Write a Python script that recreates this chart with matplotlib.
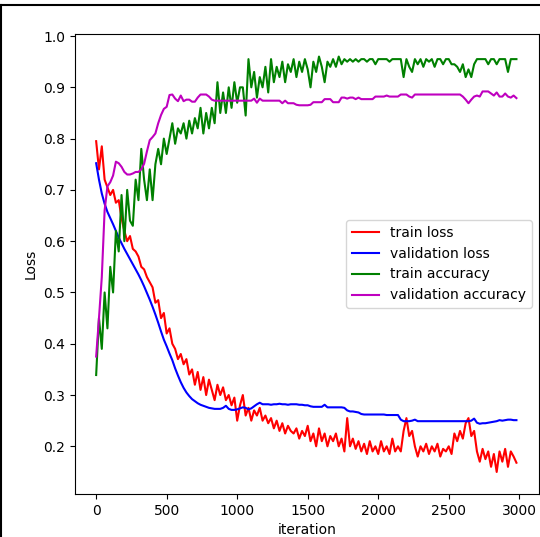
import numpy as np
import matplotlib
matplotlib.use("Agg")
import matplotlib.pyplot as plt
from matplotlib.lines import Line2D

# iterations, one sample every 20 steps
iteration = np.arange(0, 3000, 20)

train_loss = [
    0.795, 0.74, 0.785, 0.72, 0.705, 0.69, 0.70, 0.675, 0.68, 0.645,
    0.62, 0.60, 0.61, 0.585, 0.58, 0.57, 0.55, 0.545, 0.53, 0.52,
    0.51, 0.48, 0.485, 0.45, 0.46, 0.42, 0.43, 0.40, 0.39, 0.37,
    0.38, 0.36, 0.37, 0.34, 0.35, 0.32, 0.345, 0.31, 0.335, 0.30,
    0.33, 0.31, 0.29, 0.32, 0.30, 0.315, 0.29, 0.30, 0.28, 0.295,
    0.25, 0.28, 0.30, 0.26, 0.275, 0.25, 0.27, 0.26, 0.275, 0.25,
    0.26, 0.245, 0.255, 0.235, 0.25, 0.23, 0.245, 0.225, 0.24, 0.23,
    0.225, 0.235, 0.215, 0.23, 0.22, 0.24, 0.21, 0.225, 0.20, 0.235,
    0.21, 0.225, 0.20, 0.22, 0.21, 0.225, 0.20, 0.215, 0.19, 0.255,
    0.20, 0.215, 0.195, 0.21, 0.19, 0.205, 0.185, 0.21, 0.19, 0.20,
    0.185, 0.21, 0.19, 0.20, 0.185, 0.215, 0.19, 0.20, 0.19, 0.23,
    0.255, 0.22, 0.23, 0.20, 0.18, 0.20, 0.19, 0.205, 0.185, 0.20,
    0.19, 0.205, 0.18, 0.195, 0.19, 0.20, 0.185, 0.225, 0.21, 0.23,
    0.215, 0.245, 0.255, 0.22, 0.23, 0.19, 0.17, 0.195, 0.175, 0.19,
    0.16, 0.185, 0.15, 0.19, 0.17, 0.195, 0.16, 0.19, 0.18, 0.168,
]

val_loss = [
    0.752, 0.720, 0.693, 0.673, 0.657, 0.645, 0.633, 0.620, 0.607, 0.596,
    0.585, 0.575, 0.565, 0.555, 0.545, 0.535, 0.524, 0.512, 0.499, 0.486,
    0.472, 0.457, 0.441, 0.424, 0.408, 0.395, 0.381, 0.368, 0.352, 0.338,
    0.325, 0.314, 0.305, 0.298, 0.292, 0.288, 0.284, 0.281, 0.279, 0.277,
    0.275, 0.274, 0.273, 0.273, 0.273, 0.275, 0.279, 0.273, 0.271, 0.271,
    0.272, 0.274, 0.276, 0.275, 0.272, 0.274, 0.278, 0.282, 0.285, 0.282,
    0.282, 0.282, 0.281, 0.282, 0.282, 0.283, 0.282, 0.282, 0.281, 0.282,
    0.282, 0.282, 0.281, 0.281, 0.280, 0.280, 0.278, 0.277, 0.277, 0.277,
    0.277, 0.281, 0.276, 0.276, 0.276, 0.276, 0.276, 0.276, 0.275, 0.270,
    0.268, 0.268, 0.267, 0.266, 0.263, 0.262, 0.262, 0.262, 0.262, 0.262,
    0.262, 0.262, 0.262, 0.261, 0.261, 0.261, 0.261, 0.261, 0.252, 0.249,
    0.249, 0.249, 0.250, 0.252, 0.249, 0.249, 0.249, 0.249, 0.249, 0.249,
    0.249, 0.249, 0.249, 0.249, 0.249, 0.249, 0.249, 0.249, 0.249, 0.249,
    0.249, 0.249, 0.249, 0.250, 0.254, 0.246, 0.244, 0.245, 0.245, 0.246,
    0.247, 0.248, 0.249, 0.251, 0.250, 0.251, 0.252, 0.252, 0.251, 0.251,
]

train_acc = [
    0.339, 0.45, 0.39, 0.50, 0.43, 0.55, 0.50, 0.62, 0.58, 0.69,
    0.60, 0.70, 0.64, 0.63, 0.72, 0.68, 0.78, 0.72, 0.68, 0.74,
    0.68, 0.75, 0.78, 0.75, 0.80, 0.77, 0.80, 0.83, 0.79, 0.82,
    0.81, 0.83, 0.80, 0.835, 0.81, 0.84, 0.82, 0.86, 0.81, 0.85,
    0.82, 0.86, 0.83, 0.91, 0.85, 0.89, 0.85, 0.90, 0.86, 0.91,
    0.87, 0.90, 0.90, 0.845, 0.955, 0.90, 0.93, 0.88, 0.92, 0.90,
    0.94, 0.89, 0.955, 0.91, 0.94, 0.92, 0.95, 0.91, 0.945, 0.93,
    0.955, 0.92, 0.95, 0.93, 0.955, 0.935, 0.90, 0.95, 0.93, 0.96,
    0.94, 0.91, 0.95, 0.94, 0.955, 0.94, 0.96, 0.945, 0.955, 0.95,
    0.955, 0.95, 0.955, 0.95, 0.955, 0.955, 0.95, 0.955, 0.955, 0.945,
    0.955, 0.955, 0.955, 0.955, 0.95, 0.955, 0.955, 0.955, 0.955, 0.92,
    0.955, 0.94, 0.93, 0.955, 0.945, 0.955, 0.94, 0.955, 0.95, 0.955,
    0.94, 0.955, 0.955, 0.945, 0.955, 0.955, 0.945, 0.945, 0.94, 0.93,
    0.945, 0.92, 0.935, 0.92, 0.945, 0.955, 0.955, 0.955, 0.955, 0.945,
    0.955, 0.955, 0.945, 0.955, 0.955, 0.955, 0.93, 0.955, 0.955, 0.955,
]

val_acc = [
    0.375, 0.45, 0.53, 0.66, 0.707, 0.715, 0.728, 0.755, 0.752, 0.745,
    0.735, 0.73, 0.73, 0.732, 0.735, 0.735, 0.740, 0.751, 0.775, 0.797,
    0.803, 0.81, 0.83, 0.846, 0.858, 0.862, 0.885, 0.886, 0.878, 0.873,
    0.884, 0.873, 0.876, 0.876, 0.872, 0.872, 0.880, 0.886, 0.886, 0.886,
    0.882, 0.876, 0.874, 0.874, 0.874, 0.874, 0.874, 0.874, 0.874, 0.874,
    0.874, 0.874, 0.874, 0.874, 0.874, 0.874, 0.878, 0.870, 0.878, 0.874,
    0.874, 0.874, 0.874, 0.874, 0.874, 0.874, 0.869, 0.874, 0.869, 0.869,
    0.869, 0.866, 0.865, 0.865, 0.865, 0.865, 0.866, 0.871, 0.871, 0.871,
    0.871, 0.877, 0.877, 0.877, 0.871, 0.871, 0.871, 0.880, 0.880, 0.878,
    0.880, 0.880, 0.877, 0.880, 0.877, 0.877, 0.877, 0.877, 0.877, 0.882,
    0.882, 0.882, 0.882, 0.884, 0.882, 0.882, 0.882, 0.882, 0.886, 0.886,
    0.886, 0.882, 0.880, 0.886, 0.886, 0.886, 0.886, 0.886, 0.886, 0.886,
    0.886, 0.886, 0.886, 0.886, 0.886, 0.886, 0.886, 0.886, 0.886, 0.886,
    0.882, 0.876, 0.869, 0.876, 0.882, 0.884, 0.882, 0.892, 0.892, 0.892,
    0.888, 0.884, 0.890, 0.882, 0.882, 0.888, 0.882, 0.880, 0.884, 0.879,
]

fig = plt.figure(figsize=(5.4, 5.37), dpi=100)
ax = fig.add_axes([75 / 540, 43 / 537, 464 / 540, 460 / 537])

ax.plot(iteration, train_loss, 'r', label='train loss')
ax.plot(iteration, val_loss, 'b', label='validation loss')
ax.plot(iteration, train_acc, 'g', label='train accuracy')
ax.plot(iteration, val_acc, 'm', label='validation accuracy')

ax.set_xlim(-150, 3140)
ax.set_ylim(0.107, 1.004)
ax.set_xlabel('iteration')
ax.set_ylabel('Loss')
ax.legend(loc='center right')

# screenshot frame on top and left
fig.add_artist(Line2D([0, 1], [532.5 / 537, 532.5 / 537], color='black', lw=1.5))
fig.add_artist(Line2D([1 / 540, 1 / 540], [0, 532.5 / 537], color='black', lw=1.5))

fig.savefig('out.png', dpi=100)
